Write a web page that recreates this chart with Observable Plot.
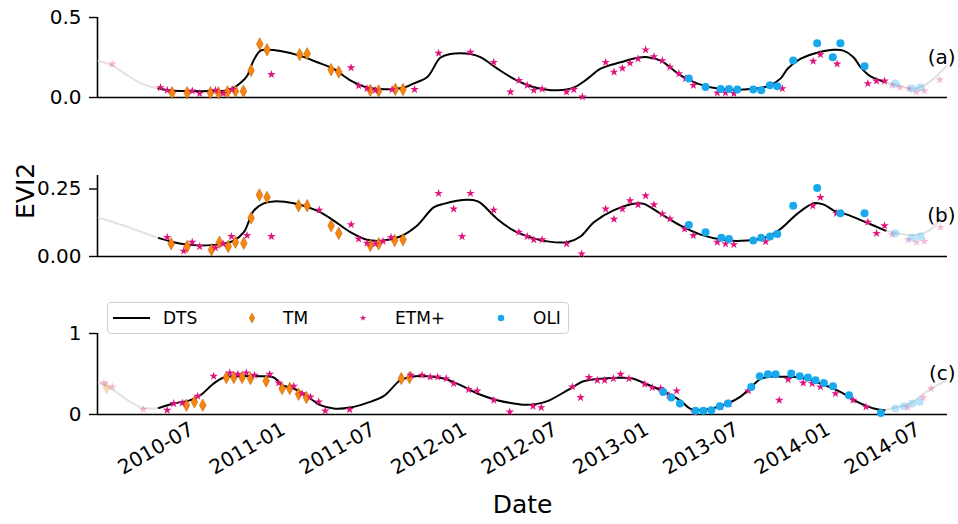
<!DOCTYPE html>
<html>
<head>
<meta charset="utf-8">
<script src="https://cdn.jsdelivr.net/npm/d3@7"></script>
<script src="https://cdn.jsdelivr.net/npm/@observablehq/plot@0.6"></script>
<style>
  html, body { margin: 0; padding: 0; background: #fff; }
  #fig { position: relative; width: 958px; height: 524px; overflow: hidden; font-family: "DejaVu Sans", sans-serif; color: #000; }
  #fig > svg { position: absolute; left: 0; }
  .legend-box { position: absolute; box-sizing: border-box; border: 1px solid #cfcfcf; border-radius: 4px; background: rgba(255,255,255,0.85); }
  .legend-text { position: absolute; font-size: 17px; line-height: 20px; white-space: nowrap; }
  .legend-swatch { position: absolute; overflow: visible; }
</style>
</head>
<body>
<div id="fig"></div>
<script>
// Time is written as decimal years; values are EVI2.
const xRange = [2010.174, 2014.854];
const tickMonths = ["2010-07", "2011-01", "2011-07", "2012-01", "2012-07", "2013-01", "2013-07", "2014-01", "2014-07"];

// ---- panel (a) ----
const dtsA = [[2010.510,0.056],[2010.576,0.043],[2010.686,0.040],[2010.796,0.040],[2010.879,0.043],[2010.923,0.060],[2010.961,0.090],[2011.000,0.138],[2011.033,0.230],[2011.072,0.293],[2011.110,0.298],[2011.182,0.290],[2011.292,0.260],[2011.385,0.220],[2011.473,0.180],[2011.567,0.107],[2011.661,0.062],[2011.732,0.053],[2011.804,0.053],[2011.870,0.065],[2011.914,0.087],[2011.991,0.128],[2012.062,0.248],[2012.118,0.272],[2012.173,0.277],[2012.228,0.272],[2012.283,0.252],[2012.376,0.180],[2012.464,0.118],[2012.558,0.070],[2012.640,0.050],[2012.707,0.045],[2012.795,0.062],[2012.872,0.118],[2012.943,0.180],[2013.053,0.220],[2013.147,0.248],[2013.202,0.252],[2013.274,0.231],[2013.384,0.138],[2013.477,0.087],[2013.604,0.053],[2013.731,0.050],[2013.863,0.070],[2013.934,0.118],[2013.973,0.180],[2014.028,0.231],[2014.116,0.273],[2014.226,0.298],[2014.281,0.293],[2014.336,0.252],[2014.375,0.190],[2014.430,0.132],[2014.512,0.097]];
const leadA = [[2010.180,0.230],[2010.262,0.196],[2010.339,0.138],[2010.427,0.082],[2010.510,0.056]];
const trailA = [[2014.512,0.097],[2014.578,0.078],[2014.650,0.055],[2014.705,0.065],[2014.770,0.110],[2014.848,0.195]];
const tmA = [[2010.585,0.029],[2010.668,0.029],[2010.796,0.029],[2010.840,0.029],[2010.890,0.035],[2010.934,0.039],[2010.978,0.039],[2011.020,0.169],[2011.068,0.335],[2011.108,0.298],[2011.288,0.268],[2011.329,0.273],[2011.461,0.174],[2011.503,0.159],[2011.677,0.045],[2011.723,0.041],[2011.815,0.051],[2011.857,0.050]];
const etmA = [[2010.255,0.210],[2010.521,0.062],[2010.558,0.045],[2010.696,0.041],[2010.737,0.025],[2010.824,0.045],[2010.866,0.025],[2010.916,0.050],[2011.132,0.144],[2011.571,0.186],[2011.613,0.074],[2011.659,0.056],[2011.705,0.045],[2011.797,0.050],[2011.921,0.050],[2012.053,0.277],[2012.228,0.283],[2012.356,0.220],[2012.448,0.035],[2012.494,0.107],[2012.540,0.076],[2012.576,0.045],[2012.622,0.053],[2012.756,0.035],[2012.796,0.050],[2012.843,0.004],[2012.971,0.220],[2013.017,0.159],[2013.063,0.183],[2013.105,0.215],[2013.149,0.242],[2013.191,0.298],[2013.237,0.256],[2013.283,0.231],[2013.325,0.190],[2013.374,0.149],[2013.411,0.118],[2013.454,0.076],[2013.586,0.029],[2013.631,0.029],[2013.677,0.025],[2013.944,0.056],[2014.114,0.227],[2014.154,0.268],[2014.246,0.210],[2014.415,0.087],[2014.463,0.103],[2014.507,0.103],[2014.549,0.076],[2014.591,0.062],[2014.641,0.056],[2014.683,0.035],[2014.727,0.041],[2014.811,0.111]];
const oliA = [[2013.429,0.118],[2013.521,0.066],[2013.604,0.053],[2013.650,0.053],[2013.696,0.050],[2013.784,0.050],[2013.828,0.045],[2013.876,0.076],[2013.916,0.070],[2014.004,0.231],[2014.136,0.339],[2014.222,0.252],[2014.264,0.339],[2014.397,0.196],[2014.567,0.087],[2014.659,0.056],[2014.705,0.062]];

// ---- panel (b) ----
const dtsB = [[2010.512,0.068],[2010.594,0.053],[2010.668,0.044],[2010.741,0.041],[2010.833,0.044],[2010.925,0.059],[2010.980,0.090],[2011.035,0.170],[2011.090,0.197],[2011.145,0.204],[2011.255,0.197],[2011.384,0.170],[2011.475,0.133],[2011.567,0.090],[2011.659,0.062],[2011.750,0.059],[2011.842,0.074],[2011.934,0.114],[2012.026,0.182],[2012.081,0.195],[2012.209,0.210],[2012.265,0.205],[2012.290,0.195],[2012.375,0.139],[2012.466,0.096],[2012.558,0.071],[2012.650,0.056],[2012.760,0.053],[2012.833,0.074],[2012.906,0.127],[2013.017,0.172],[2013.145,0.197],[2013.182,0.195],[2013.274,0.158],[2013.384,0.114],[2013.494,0.081],[2013.641,0.059],[2013.751,0.059],[2013.843,0.069],[2013.934,0.102],[2014.026,0.158],[2014.118,0.197],[2014.173,0.192],[2014.228,0.170],[2014.301,0.155],[2014.393,0.130],[2014.512,0.096]];
const leadB = [[2010.181,0.143],[2010.262,0.127],[2010.347,0.108],[2010.430,0.087],[2010.512,0.068]];
const trailB = [[2014.512,0.096],[2014.595,0.083],[2014.680,0.080],[2014.750,0.095],[2014.800,0.125],[2014.848,0.175]];
const tmB = [[2010.580,0.047],[2010.668,0.037],[2010.802,0.025],[2010.846,0.053],[2010.894,0.037],[2010.934,0.053],[2010.980,0.049],[2011.020,0.143],[2011.066,0.228],[2011.108,0.219],[2011.282,0.188],[2011.329,0.188],[2011.461,0.114],[2011.503,0.086],[2011.677,0.041],[2011.723,0.047],[2011.811,0.059],[2011.857,0.062]];
const etmB = [[2010.558,0.071],[2010.649,0.020],[2010.696,0.053],[2010.737,0.037],[2010.824,0.032],[2010.866,0.047],[2010.912,0.074],[2010.998,0.078],[2011.132,0.074],[2011.396,0.172],[2011.571,0.118],[2011.613,0.065],[2011.659,0.049],[2011.705,0.047],[2011.747,0.056],[2011.791,0.071],[2012.053,0.234],[2012.136,0.176],[2012.182,0.074],[2012.228,0.234],[2012.356,0.172],[2012.494,0.090],[2012.540,0.074],[2012.576,0.062],[2012.622,0.062],[2012.756,0.047],[2012.839,0.010],[2012.971,0.176],[2013.017,0.138],[2013.063,0.176],[2013.105,0.207],[2013.149,0.192],[2013.191,0.225],[2013.237,0.192],[2013.283,0.158],[2013.325,0.139],[2013.406,0.102],[2013.454,0.078],[2013.586,0.053],[2013.631,0.047],[2013.677,0.044],[2013.852,0.055],[2014.112,0.188],[2014.154,0.219],[2014.242,0.160],[2014.415,0.127],[2014.463,0.086],[2014.507,0.114],[2014.549,0.081],[2014.637,0.062],[2014.683,0.053],[2014.727,0.056],[2014.815,0.108]];
const oliB = [[2013.429,0.117],[2013.521,0.090],[2013.608,0.069],[2013.650,0.065],[2013.784,0.059],[2013.828,0.069],[2013.876,0.074],[2013.916,0.083],[2014.004,0.188],[2014.136,0.254],[2014.264,0.160],[2014.397,0.160],[2014.567,0.086],[2014.659,0.069],[2014.705,0.074]];

// ---- panel (c) ----
const dtsC = [[2010.512,0.081],[2010.594,0.136],[2010.686,0.177],[2010.741,0.238],[2010.814,0.383],[2010.870,0.457],[2010.961,0.473],[2011.072,0.473],[2011.145,0.457],[2011.191,0.362],[2011.255,0.321],[2011.329,0.226],[2011.402,0.115],[2011.475,0.074],[2011.567,0.086],[2011.659,0.143],[2011.750,0.226],[2011.842,0.423],[2011.897,0.464],[2011.989,0.473],[2012.081,0.444],[2012.173,0.362],[2012.265,0.259],[2012.375,0.177],[2012.466,0.136],[2012.530,0.120],[2012.585,0.128],[2012.651,0.165],[2012.762,0.300],[2012.850,0.410],[2012.960,0.446],[2013.053,0.455],[2013.119,0.445],[2013.191,0.380],[2013.274,0.300],[2013.340,0.230],[2013.389,0.160],[2013.439,0.070],[2013.532,0.065],[2013.642,0.136],[2013.714,0.220],[2013.769,0.330],[2013.824,0.440],[2013.879,0.468],[2013.934,0.466],[2014.044,0.457],[2014.154,0.383],[2014.264,0.279],[2014.357,0.156],[2014.448,0.074],[2014.507,0.053]];
const leadC = [[2010.181,0.400],[2010.262,0.300],[2010.338,0.180],[2010.411,0.090],[2010.460,0.075],[2010.512,0.081]];
const trailC = [[2014.507,0.053],[2014.567,0.086],[2014.650,0.136],[2014.723,0.259],[2014.797,0.362],[2014.848,0.420]];
const tmC = [[2010.224,0.333],[2010.664,0.115],[2010.708,0.156],[2010.754,0.115],[2010.884,0.457],[2010.925,0.457],[2010.971,0.457],[2011.017,0.444],[2011.103,0.415],[2011.191,0.321],[2011.233,0.321],[2011.282,0.251],[2011.325,0.210],[2011.848,0.444],[2011.893,0.457]];
const etmC = [[2010.209,0.390],[2010.255,0.341],[2010.426,0.062],[2010.558,0.053],[2010.594,0.136],[2010.641,0.143],[2010.726,0.226],[2010.814,0.473],[2010.903,0.514],[2010.947,0.498],[2010.994,0.514],[2011.039,0.485],[2011.123,0.498],[2011.172,0.390],[2011.255,0.350],[2011.301,0.259],[2011.347,0.217],[2011.393,0.156],[2011.429,0.045],[2011.563,0.062],[2011.901,0.485],[2011.962,0.485],[2012.007,0.464],[2012.048,0.464],[2012.095,0.444],[2012.136,0.383],[2012.218,0.309],[2012.265,0.292],[2012.356,0.177],[2012.444,0.032],[2012.572,0.102],[2012.617,0.086],[2012.788,0.341],[2012.833,0.210],[2012.879,0.457],[2012.925,0.423],[2012.965,0.423],[2013.013,0.444],[2013.053,0.498],[2013.099,0.444],[2013.186,0.374],[2013.228,0.333],[2013.274,0.321],[2013.319,0.238],[2013.362,0.292],[2013.457,0.032],[2013.604,0.094],[2013.650,0.136],[2013.757,0.292],[2013.927,0.177],[2013.976,0.432],[2014.059,0.390],[2014.109,0.383],[2014.154,0.341],[2014.237,0.259],[2014.334,0.177],[2014.405,0.094],[2014.635,0.086],[2014.720,0.210],[2014.764,0.321]];
const oliC = [[2013.288,0.279],[2013.332,0.210],[2013.380,0.136],[2013.466,0.045],[2013.509,0.045],[2013.553,0.053],[2013.600,0.102],[2013.644,0.136],[2013.773,0.341],[2013.820,0.473],[2013.865,0.498],[2013.907,0.498],[2013.993,0.506],[2014.040,0.473],[2014.085,0.457],[2014.127,0.423],[2014.173,0.390],[2014.223,0.350],[2014.311,0.238],[2014.487,0.020],[2014.567,0.074],[2014.613,0.102],[2014.659,0.136],[2014.701,0.156]];

// ---- styling ----
const colors = {dts: "#000000", ext: "#e2e2e2", tm: "#f7850f", tmEdge: "#b65a00", etm: "#e0147e", oli: "#17a8ee"};
const font = "DejaVu Sans";

// decimal year -> Date (UTC)
function toDate(t) {
  const y = Math.floor(t);
  const a = Date.UTC(y, 0, 1), b = Date.UTC(y + 1, 0, 1);
  return new Date(a + (t - y) * (b - a));
}
const rows = arr => arr.map(([t, v]) => ({t, date: toDate(t), v}));
const xDomain = xRange.map(toDate);
const ticks = tickMonths.map(d3.utcParse("%Y-%m"));

// slim diamond like the TM marker
const thinDiamond = {
  draw(ctx, size) {
    const r = Math.sqrt(size / Math.PI);
    ctx.moveTo(0, -1.3 * r);
    ctx.lineTo(0.7 * r, 0);
    ctx.lineTo(0, 1.3 * r);
    ctx.lineTo(-0.7 * r, 0);
    ctx.closePath();
  }
};

function sensorDots(data, start, end, opts) {
  const all = rows(data);
  const inside = all.filter(d => d.t >= start && d.t <= end);
  const outside = all.filter(d => d.t < start || d.t > end);
  return [
    Plot.dot(outside, {x: "date", y: "v", ...opts, fillOpacity: 0.3, strokeOpacity: 0.3}),
    Plot.dot(inside, {x: "date", y: "v", ...opts})
  ];
}

function panel(p) {
  const start = p.dts[0][0], end = p.dts[p.dts.length - 1][0];
  const marks = [
    Plot.ruleX([xDomain[0]], {stroke: "black", strokeWidth: 1.6}),
    Plot.ruleY([0], {stroke: "black", strokeWidth: 1.6}),
    Plot.axisY({ticks: p.yTicks, tickFormat: p.yFormat, tickSize: 8, tickPadding: 8, fontSize: 20, strokeWidth: 1.4, label: null}),
    Plot.line(rows(p.lead), {x: "date", y: "v", stroke: colors.ext, strokeWidth: 2, curve: "catmull-rom"}),
    Plot.line(rows(p.trail), {x: "date", y: "v", stroke: colors.ext, strokeWidth: 2, curve: "catmull-rom"}),
    Plot.line(rows(p.dts), {x: "date", y: "v", stroke: colors.dts, strokeWidth: 2, curve: "catmull-rom"}),
    ...sensorDots(p.tm, start, end, {symbol: thinDiamond, r: 4.8, fill: colors.tm, stroke: colors.tmEdge, strokeWidth: 0.5}),
    ...sensorDots(p.etm, start, end, {symbol: "star", r: 2.7, fill: colors.etm}),
    ...sensorDots(p.oli, start, end, {symbol: "circle", r: 4, fill: colors.oli}),
    Plot.text([p.tag], {frameAnchor: "right", y: [p.tagY], textAnchor: "end", dx: 8, fontSize: 20})
  ];
  if (p.extra) marks.push(...p.extra);
  const svg = Plot.plot({
    width: 958,
    height: p.height,
    marginLeft: 97,
    marginRight: 11,
    marginTop: p.marginTop,
    marginBottom: p.marginBottom,
    x: {type: "utc", domain: xDomain, axis: p.xAxis ? undefined : null},
    y: {domain: p.yDomain},
    style: {background: "transparent", overflow: "visible", fontFamily: font, color: "black"},
    marks
  });
  svg.style.top = p.top + "px";
  return svg;
}

const fig = document.getElementById("fig");

fig.append(panel({
  dts: dtsA, lead: leadA, trail: trailA, tm: tmA, etm: etmA, oli: oliA,
  yDomain: [0, 0.5], yTicks: [0, 0.5], yFormat: d3.format(".1f"),
  tag: "(a)", tagY: 0.25,
  top: 0, height: 100, marginTop: 17, marginBottom: 3
}));

fig.append(panel({
  dts: dtsB, lead: leadB, trail: trailB, tm: tmB, etm: etmB, oli: oliB,
  yDomain: [0, 0.3], yTicks: [0, 0.25], yFormat: d3.format(".2f"),
  tag: "(b)", tagY: 0.15,
  top: 155, height: 104, marginTop: 20, marginBottom: 3,
  extra: [Plot.text(["EVI2"], {frameAnchor: "left", rotate: -90, dx: -72, dy: 3, fontSize: 25})]
}));

fig.append(panel({
  dts: dtsC, lead: leadC, trail: trailC, tm: tmC, etm: etmC, oli: oliC,
  yDomain: [0, 1], yTicks: [0, 1], yFormat: d3.format("d"),
  tag: "(c)", tagY: 0.5,
  top: 313, height: 211, marginTop: 20, marginBottom: 110,
  xAxis: true,
  extra: [
    Plot.axisX({ticks, tickFormat: d3.utcFormat("%Y-%m"), tickSize: 0, tickPadding: 34, tickRotate: -30, textAnchor: "middle", lineAnchor: "middle", fontSize: 20, label: null}),
    Plot.text(["Date"], {frameAnchor: "bottom", dy: 98, fontSize: 25})
  ]
}));

// legend
const legendItems = [
  {label: "DTS", kind: "line", sx: 113, tx: 163},
  {label: "TM", kind: "tm", sx: 252, tx: 283},
  {label: "ETM+", kind: "etm", sx: 363, tx: 395},
  {label: "OLI", kind: "oli", sx: 501, tx: 533}
];
const box = document.createElement("div");
box.className = "legend-box";
Object.assign(box.style, {left: "107px", top: "302px", width: "462px", height: "32px"});
fig.append(box);
const ly = 318;
for (const it of legendItems) {
  const ns = "http://www.w3.org/2000/svg";
  const s = document.createElementNS(ns, "svg");
  s.setAttribute("class", "legend-swatch");
  if (it.kind === "line") {
    s.setAttribute("width", 37); s.setAttribute("height", 4);
    s.style.left = it.sx + "px"; s.style.top = (ly - 2) + "px";
    const l = document.createElementNS(ns, "line");
    l.setAttribute("x1", 0); l.setAttribute("x2", 37); l.setAttribute("y1", 2); l.setAttribute("y2", 2);
    l.setAttribute("stroke", colors.dts); l.setAttribute("stroke-width", 2);
    s.append(l);
  } else {
    s.setAttribute("width", 14); s.setAttribute("height", 14);
    s.style.left = (it.sx - 7) + "px"; s.style.top = (ly - 7) + "px";
    const path = document.createElementNS(ns, "path");
    let d;
    if (it.kind === "tm") d = d3.symbol(thinDiamond, Math.PI * 3.8 * 3.8)();
    else if (it.kind === "etm") d = d3.symbol(d3.symbolStar, Math.PI * 2.1 * 2.1)();
    else d = d3.symbol(d3.symbolCircle, Math.PI * 3.3 * 3.3)();
    path.setAttribute("d", d);
    path.setAttribute("transform", "translate(7,7)");
    path.setAttribute("fill", colors[it.kind]);
    if (it.kind === "tm") { path.setAttribute("stroke", colors.tmEdge); path.setAttribute("stroke-width", 0.5); }
    s.append(path);
  }
  fig.append(s);
  const t = document.createElement("div");
  t.className = "legend-text";
  t.textContent = it.label;
  t.style.left = it.tx + "px";
  t.style.top = (ly - 10) + "px";
  fig.append(t);
}
</script>
</body>
</html>
